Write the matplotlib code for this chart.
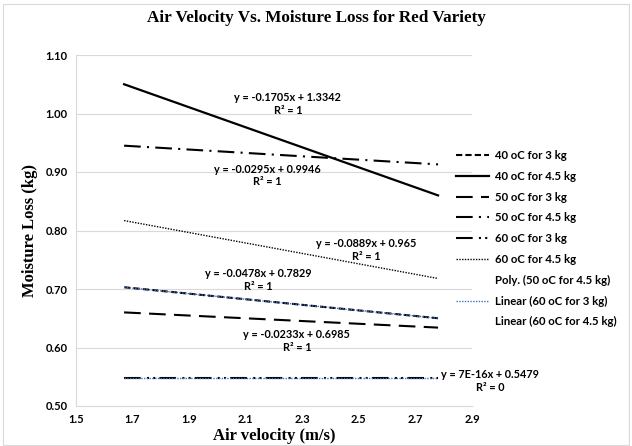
import matplotlib
matplotlib.use("Agg")
import matplotlib.pyplot as plt
from matplotlib.lines import Line2D
from matplotlib.patches import Rectangle

# ---- data ----
air_velocity = [1.67, 2.78]
loss_40_3 = [0.703, 0.650]
loss_40_45 = [1.050, 0.860]
loss_50_3 = [0.660, 0.634]
loss_50_45 = [0.945, 0.913]
loss_60_3 = [0.548, 0.548]
loss_60_45 = [0.817, 0.718]

series_labels = ["40 oC for 3 kg", "40 oC for 4.5 kg", "50 oC for 3 kg",
                 "50 oC for 4.5 kg", "60 oC for 3 kg", "60 oC for 4.5 kg"]
trend_labels = ["Poly. (50 oC for 4.5 kg)", "Linear (60 oC for 3 kg)",
                "Linear (60 oC for 4.5 kg)"]

equations = [
    ("y = -0.1705x + 1.3342\nR² = 1", 2.249, 1.016),
    ("y = -0.0295x + 0.9946\nR² = 1", 2.175, 0.894),
    ("y = -0.0889x + 0.965\nR² = 1", 2.525, 0.767),
    ("y = -0.0478x + 0.7829\nR² = 1", 2.143, 0.715),
    ("y = -0.0233x + 0.6985\nR² = 1", 2.281, 0.611),
    ("y = 7E-16x + 0.5479\nR² = 0", 2.963, 0.543),
]

x_ticks = [1.5, 1.7, 1.9, 2.1, 2.3, 2.5, 2.7, 2.9]
y_ticks = [0.50, 0.60, 0.70, 0.80, 0.90, 1.00, 1.10]

sans = "Lato"
serif = "Liberation Serif"

fig = plt.figure(figsize=(6.32, 4.46), dpi=100)
ax = fig.add_axes([76/632, 40/446, 396/632, 351/446])

blue = "#4472C4"
lines = []
l, = ax.plot(air_velocity, loss_40_3, color="black", lw=1.5, linestyle=(0, (3, 1.5)))
lines.append(l)
ax.plot(air_velocity, loss_40_3, color=blue, lw=1.0, linestyle=(0, (1, 1)))
l, = ax.plot(air_velocity, loss_40_45, color="black", lw=1.6, linestyle="-")
lines.append(l)
l, = ax.plot(air_velocity, loss_50_3, color="black", lw=1.5, linestyle=(0, (8, 4)))
lines.append(l)
l, = ax.plot(air_velocity, loss_50_45, color="black", lw=1.5, linestyle=(0, (8, 3, 1, 3)))
lines.append(l)
l, = ax.plot(air_velocity, loss_60_3, color="black", lw=1.5, linestyle=(0, (8, 3, 1, 2, 1, 2)))
lines.append(l)
l, = ax.plot(air_velocity, loss_60_45, color="black", lw=1.0, linestyle=(0, (1, 1)))
lines.append(l)
ax.plot(air_velocity, loss_60_3, color=blue, lw=1.0, linestyle=(0, (1, 1)))

for txt, x, y in equations:
    ax.text(x, y, txt, ha="center", va="center", fontsize=7.8, fontweight="bold",
            family=sans, linespacing=1.2, clip_on=False)

ax.set_xlim(1.5, 2.9)
ax.set_ylim(0.5, 1.1)
ax.set_xticks(x_ticks)
ax.set_xticklabels([f"{v:.1f}" for v in x_ticks])
ax.set_yticks(y_ticks)
ax.set_yticklabels([f"{v:.2f}" for v in y_ticks])
for lab in ax.get_xticklabels() + ax.get_yticklabels():
    lab.set_fontfamily(sans)
    lab.set_fontweight("bold")
    lab.set_fontsize(8)
ax.tick_params(length=0, pad=6)
ax.grid(axis="y", color="#d9d9d9", lw=0.8)
ax.set_axisbelow(True)
for s in ["top", "right"]:
    ax.spines[s].set_visible(False)
for s in ["left", "bottom"]:
    ax.spines[s].set_color("#d9d9d9")
    ax.spines[s].set_linewidth(0.8)

ax.set_xlabel("Air velocity (m/s)", fontfamily=serif, fontweight="bold", fontsize=12, labelpad=2)
ax.set_ylabel("Moisture Loss (kg)", fontfamily=serif, fontweight="bold", fontsize=12, labelpad=5)
fig.text(0.5, 1 - 18/446, "Air Velocity Vs. Moisture Loss for Red Variety", ha="center",
         va="center", fontfamily=serif, fontweight="bold", fontsize=12.3)

handles = list(lines)
handles.append(Line2D([], [], color="none"))
handles.append(Line2D([], [], color=blue, lw=1.0, linestyle=(0, (1, 1))))
handles.append(Line2D([], [], color="none"))
leg = fig.legend(handles, series_labels + trend_labels, loc="upper left",
                 bbox_to_anchor=(456/632, 1 - 150/446), frameon=False,
                 prop={"family": sans, "weight": "bold", "size": 8.2},
                 handlelength=2.9, handletextpad=0.55, labelspacing=0.86,
                 borderaxespad=0, borderpad=0)

fig.patches.append(Rectangle((3/632, 1/446), 626/632, 441/446, transform=fig.transFigure,
                             fill=False, edgecolor="#d9d9d9", lw=0.8))

fig.savefig("out.png", dpi=100)
